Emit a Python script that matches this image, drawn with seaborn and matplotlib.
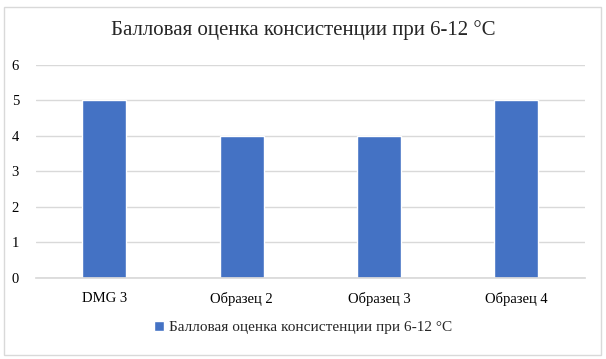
import numpy as np
import matplotlib.pyplot as plt
import seaborn as sns
import pandas as pd
from matplotlib.patches import Rectangle

categories = ['DMG 3', 'Образец 2', 'Образец 3', 'Образец 4']
scores = [5, 4, 4, 5]
series_name = 'Балловая оценка консистенции при 6-12 °C'

df = pd.DataFrame({'sample': categories, 'score': scores})

sns.set_theme(style='white')
plt.rcParams['font.family'] = ['Liberation Serif', 'DejaVu Serif']

fig = plt.figure(figsize=(6.06, 3.59), dpi=100)
ax = fig.add_axes([0.059, 0.226, 0.906, 0.593])

sns.barplot(data=df, x='sample', y='score', color='#4472C4', width=0.32,
            saturation=1, ax=ax, label=series_name)
handles, labels = ax.get_legend_handles_labels()
if ax.get_legend() is not None:
    ax.get_legend().remove()

ax.set_ylim(0, 6)
ax.set_yticks(range(0, 7))
ax.yaxis.grid(True, color='#D9D9D9', linewidth=1)
ax.set_axisbelow(True)
for s in ['top', 'right', 'left']:
    ax.spines[s].set_visible(False)
ax.spines['bottom'].set_color('#D9D9D9')
ax.set_xlabel('')
ax.set_ylabel('')
ax.tick_params(axis='both', length=0, labelsize=10.5, colors='#000000')
ax.tick_params(axis='x', pad=10)
ax.tick_params(axis='y', pad=12)

fig.suptitle(series_name, y=0.945, fontsize=15)

leg = fig.legend(handles, labels, loc='lower center', bbox_to_anchor=(0.5, 0.03),
                 ncol=1, frameon=False, fontsize=11, handlelength=0.7,
                 handleheight=0.7, handletextpad=0.3)

fig.patches.append(Rectangle((0.007, 0.011), 0.985, 0.97, transform=fig.transFigure,
                             fill=False, edgecolor='#D9D9D9', linewidth=1))

fig.savefig('out.png', dpi=100)
